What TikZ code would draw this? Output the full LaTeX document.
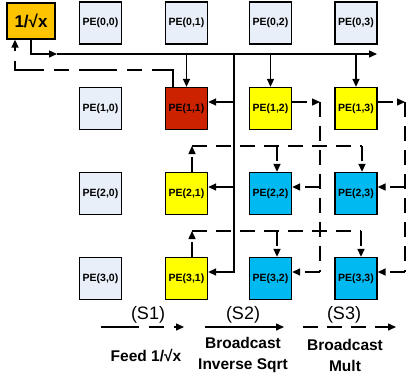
\documentclass[tikz,border=0pt]{standalone}
\usepackage{fontspec}
\setmainfont{Liberation Sans}
\usetikzlibrary{arrows.meta}
\definecolor{pelight}{RGB}{232,239,248}
\definecolor{pered}{RGB}{204,34,0}
\definecolor{peyellow}{RGB}{255,255,0}
\definecolor{peblue}{RGB}{0,185,240}
\definecolor{invorange}{RGB}{255,196,0}
\begin{document}
\begin{tikzpicture}[x=1pt,y=-1pt,
  pe/.style={draw=black, line width=1.3pt, minimum width=42pt, minimum height=42pt, inner sep=0pt,
    font=\fontsize{10.5}{12}\selectfont\bfseries},
  tip/.style={-{Triangle[length=8pt,width=7pt]}},
  s1/.style={line width=1.4pt, dash pattern=on 38pt off 10pt on 15pt off 10pt},
  s2/.style={line width=1.4pt},
  s3/.style={line width=1.4pt, dash pattern=on 15pt off 9pt},
  stext/.style={font=\fontsize{18}{20}\selectfont},
  ltext/.style={font=\fontsize{15.5}{21}\selectfont\bfseries, align=center, inner sep=1pt}
]
\useasboundingbox (0,0) rectangle (406,373);

% boxes
\node[pe, fill=invorange, minimum width=48pt, minimum height=36pt, font=\fontsize{17}{19}\selectfont\bfseries] (inv) at (31,21) {1/√x};

\node[pe, fill=pelight] (p00) at (100.5,23) {PE(0,0)};
\node[pe, fill=pelight] (p01) at (186.5,23) {PE(0,1)};
\node[pe, fill=pelight] (p02) at (270.5,23) {PE(0,2)};
\node[pe, fill=pelight] (p03) at (356,23) {PE(0,3)};

\node[pe, fill=pelight] (p10) at (100.5,108.5) {PE(1,0)};
\node[pe, fill=pered] (p11) at (186.5,108.5) {PE(1,1)};
\node[pe, fill=peyellow] (p12) at (270.5,108.5) {PE(1,2)};
\node[pe, fill=peyellow] (p13) at (356,108.5) {PE(1,3)};

\node[pe, fill=pelight] (p20) at (100.5,193.5) {PE(2,0)};
\node[pe, fill=peyellow] (p21) at (186.5,193.5) {PE(2,1)};
\node[pe, fill=peblue] (p22) at (270.5,193.5) {PE(2,2)};
\node[pe, fill=peblue] (p23) at (356,193.5) {PE(2,3)};

\node[pe, fill=pelight] (p30) at (100.5,278.5) {PE(3,0)};
\node[pe, fill=peyellow] (p31) at (186.5,278.5) {PE(3,1)};
\node[pe, fill=peblue] (p32) at (270.5,278.5) {PE(3,2)};
\node[pe, fill=peblue] (p33) at (356,278.5) {PE(3,3)};

% S2: broadcast inverse sqrt (solid)
\coordinate (bus) at (57,54);
\coordinate (busend) at (377,54);
\coordinate (vtop) at (234,54);
\draw[s2, tip] (inv.south) |- (bus);
\draw[s2, tip] (bus) -- (busend);
\draw[s2, tip] (p11.north |- bus) -- (p11.north);
\draw[s2, tip] (p12.north |- bus) -- (p12.north);
\draw[s2, tip] (p13.north |- bus) -- (p13.north);
\coordinate (r1) at ([yshift=6.5pt]p11.east);
\coordinate (r2) at ([yshift=6.5pt]p21.east);
\coordinate (r3) at ([yshift=6.5pt]p31.east);
\draw[s2, tip] (vtop) -- (r3 -| vtop) -- (r3);
\draw[s2, tip] (r1 -| vtop) -- (r1);
\draw[s2, tip] (r2 -| vtop) -- (r2);

% S1: feed back to 1/sqrt(x)
\coordinate (ret) at (15,70);
\draw[s1, tip] ([xshift=-13.5pt]p11.north) |- (ret) -- (ret |- inv.south);

% S3: broadcast mult (dashed)
\coordinate (c2) at (320,102);
\coordinate (c3) at (405,102);
\coordinate (q22) at ([yshift=6.5pt]p22.east);
\coordinate (q32) at ([yshift=6.5pt]p32.east);
\coordinate (q23) at ([yshift=6.5pt]p23.east);
\coordinate (q33) at ([yshift=6.5pt]p33.east);
\draw[s3, tip] ([yshift=6.5pt]p12.east) -- (c2);
\draw[s3] (c2) -- (c2 |- q32);
\draw[s3, tip] (c2 |- q22) -- (q22);
\draw[s3, tip] (c2 |- q32) -- (q32);
\draw[s3, tip] ([yshift=6.5pt]p13.east) -- (c3);
\draw[s3] (c3) -- (c3 |- q33);
\draw[s3, tip] (c3 |- q23) -- (q23);
\draw[s3, tip] (c3 |- q33) -- (q33);

\coordinate (u21) at ([xshift=5.5pt]p21.north);
\coordinate (u31) at ([xshift=5.5pt]p31.north);
\coordinate (d22) at ([xshift=6.5pt]p22.north);
\coordinate (d23) at ([xshift=6pt]p23.north);
\coordinate (d32) at ([xshift=6.5pt]p32.north);
\coordinate (d33) at ([xshift=5pt]p33.north);
\coordinate (row2) at (192,146);
\coordinate (row3) at (192,231);
\draw[s3, tip] (u21) -- (row2);
\draw[s3] (row2) -- (d23 |- row2);
\draw[s3, tip] (d22 |- row2) -- (d22);
\draw[s3, tip] (d23 |- row2) -- (d23);
\draw[s3, tip] (u31) -- (row3);
\draw[s3] (row3) -- (d33 |- row3);
\draw[s3, tip] (d32 |- row3) -- (d32);
\draw[s3, tip] (d33 |- row3) -- (d33);

% legend
\node[stext] (s1t) at (148,315) {(S1)};
\node[stext] (s2t) at (243,315) {(S2)};
\node[stext] (s3t) at (344,315) {(S3)};
\coordinate (l1a) at (101,327);
\coordinate (l1b) at (184,327);
\coordinate (l2a) at (205,327);
\coordinate (l2b) at (284,327);
\coordinate (l3a) at (303,327);
\coordinate (l3b) at (396,327);
\draw[s1, tip] (l1a) -- (l1b);
\draw[s2, tip] (l2a) -- (l2b);
\draw[s3, tip] (l3a) -- (l3b);
\node[ltext] (f1) at (146,356) {Feed 1/√x};
\node[ltext] (f2) at (243,355) {Broadcast\\Inverse Sqrt};
\node[ltext] (f3) at (345,355) {Broadcast\\Mult};
\end{tikzpicture}
\end{document}
